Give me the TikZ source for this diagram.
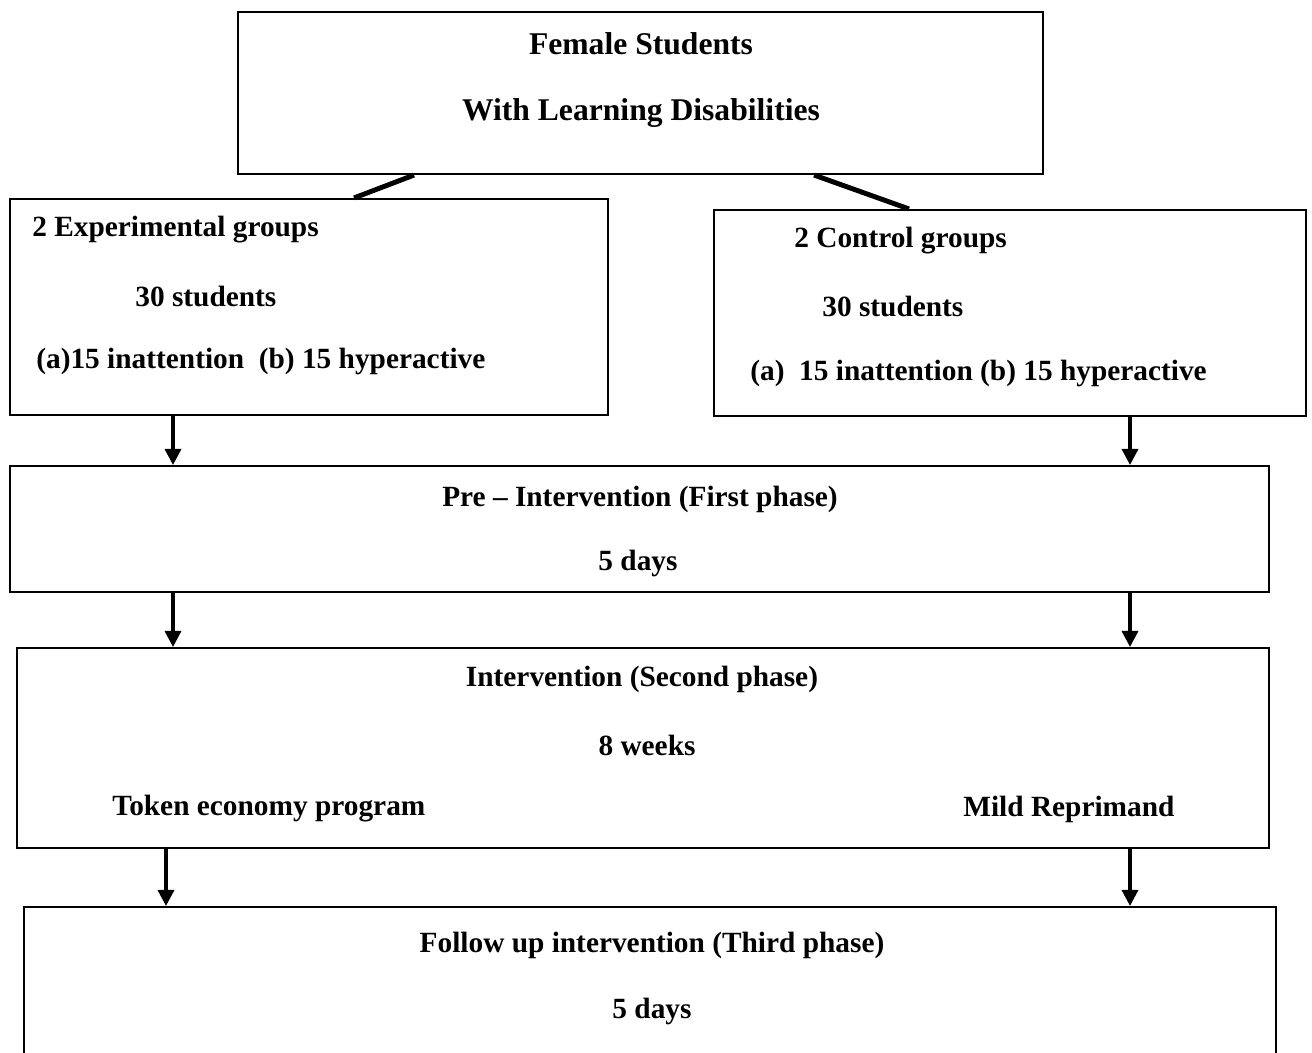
\documentclass[tikz,border=0pt]{standalone}
\usepackage{fontspec}
\setmainfont{Liberation Serif}
\usepackage{tikz}
\usetikzlibrary{arrows.meta,positioning,calc}

\begin{document}
\begin{tikzpicture}[x=0.02cm, y=-0.02cm, >={Triangle[width=0.32cm,length=0.32cm]},
  blk/.style={draw, line width=1.2pt, inner sep=0pt},
  txt/.style={font=\fontsize{16.7}{20}\selectfont\bfseries, inner sep=0pt},
  head/.style={txt, font=\fontsize{18}{22}\selectfont\bfseries},
  arr/.style={->, line width=1.9pt},
  tie/.style={line width=2.8pt}]
  \useasboundingbox (0,0) rectangle (1312,1052);
  % boxes
  \node[blk, minimum width=16.1cm,  minimum height=3.24cm] (top) at (640.5,93)  {};
  \node[blk, minimum width=11.96cm, minimum height=4.32cm] (exp) at (309,307)   {};
  \node[blk, minimum width=11.84cm, minimum height=4.12cm] (ctl) at (1010,313)  {};
  \node[blk, minimum width=25.18cm, minimum height=2.52cm] (pre) at (639.5,529) {};
  \node[blk, minimum width=25.04cm, minimum height=4.0cm]  (int) at (643,748)   {};
  \node[blk, minimum width=25.04cm, minimum height=3.72cm] (fol) at (650,1000)  {};
  % texts
  \node[head] (t1) at (641,44)  {Female Students};
  \node[head] (t2) at (641,113) {With Learning Disabilities};
  \node[txt, anchor=west] (e1) at (32,230)  {2 Experimental groups};
  \node[txt, anchor=west] (e2) at (135,296) {30 students};
  \node[txt, anchor=west] (e3) at (36,361)  {(a)15 inattention\ \ (b) 15 hyperactive};
  \node[txt, anchor=west] (c1) at (794,241) {2 Control groups};
  \node[txt, anchor=west] (c2) at (822,306) {30 students};
  \node[txt, anchor=west] (c3) at (750,373) {(a)\ \ 15 inattention (b) 15 hyperactive};
  \node[txt] (p1) at (640,499) {Pre – Intervention (First phase)};
  \node[txt] (p2) at (638,563) {5 days};
  \node[txt] (i1) at (642,679) {Intervention (Second phase)};
  \node[txt] (i2) at (647,745) {8 weeks};
  \node[txt, anchor=west] (i3) at (112,809) {Token economy program};
  \node[txt, anchor=west] (i4) at (963,809) {Mild Reprimand};
  \node[txt] (f1) at (652,945)  {Follow up intervention (Third phase)};
  \node[txt] (f2) at (652,1011) {5 days};
  % connectors
  \draw[tie] ($(top.south west)+(177,0)$) -- ($(exp.north west)+(345,0)$);
  \draw[tie] ($(top.south west)+(577,0)$) -- ($(ctl.north west)+(196,0)$);
  \coordinate (cl) at (173,0);
  \coordinate (cm) at (166,0);
  \coordinate (cr) at (1130,0);
  \draw[arr] (exp.south -| cl) -- (pre.north -| cl);
  \draw[arr] (ctl.south -| cr) -- (pre.north -| cr);
  \draw[arr] (pre.south -| cl) -- (int.north -| cl);
  \draw[arr] (pre.south -| cr) -- (int.north -| cr);
  \draw[arr] (int.south -| cm) -- (fol.north -| cm);
  \draw[arr] (int.south -| cr) -- (fol.north -| cr);
\end{tikzpicture}
\end{document}
